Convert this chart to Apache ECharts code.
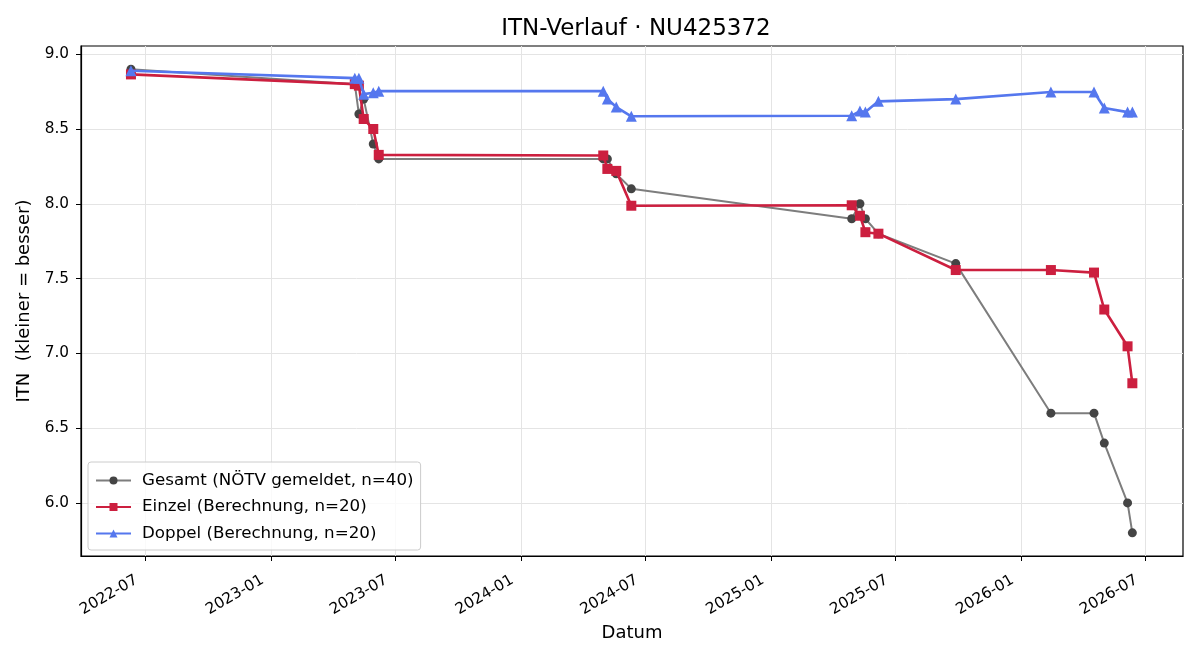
<!DOCTYPE html>
<html>
<head>
<meta charset="UTF-8">
<title>ITN-Verlauf</title>
<script src="https://cdn.jsdelivr.net/npm/echarts@6/dist/echarts.min.js"></script>
<style>
  html, body { margin: 0; padding: 0; background: #fff; }
  #main { width: 1200px; height: 660px; }
</style>
</head>
<body>
<div id="main"></div>
<script type="text/javascript">
// Spieltermine (gleich fuer Einzel und Doppel)
var dates = ['2022-06-10', '2023-05-03', '2023-05-09', '2023-05-16', '2023-05-30', '2023-06-07',
  '2024-04-30', '2024-05-06', '2024-05-19', '2024-06-10',
  '2025-04-28', '2025-05-10', '2025-05-18', '2025-06-06', '2025-09-27',
  '2026-02-13', '2026-04-17', '2026-05-02', '2026-06-05', '2026-06-12'];

var gesamt = [8.9, 8.8, 8.6, 8.7, 8.4, 8.3,
  8.3, 8.3, 8.2, 8.1,
  7.9, 8.0, 7.9, 7.8, 7.6,
  6.6, 6.6, 6.4, 6.0, 5.8];

var einzel = [8.865, 8.80, 8.79, 8.567, 8.50, 8.327,
  8.323, 8.233, 8.22, 7.987,
  7.99, 7.92, 7.81, 7.80, 7.557,
  7.557, 7.54, 7.293, 7.047, 6.80];

var doppel = [8.89, 8.84, 8.84, 8.733, 8.743, 8.753,
  8.753, 8.70, 8.647, 8.585,
  8.589, 8.62, 8.613, 8.685, 8.70,
  8.747, 8.747, 8.64, 8.613, 8.613];

var xTicks = ['2022-07-01', '2023-01-01', '2023-07-01', '2024-01-01', '2024-07-01',
  '2025-01-01', '2025-07-01', '2026-01-01', '2026-07-01'];
var yTicks = [6.0, 6.5, 7.0, 7.5, 8.0, 8.5, 9.0];

var seriesNames = ['Gesamt (NÖTV gemeldet, n=40)', 'Einzel (Berechnung, n=20)', 'Doppel (Berechnung, n=20)'];

function t(s) {
  var p = s.split('-');
  return Date.UTC(+p[0], +p[1] - 1, +p[2]);
}
function pairs(vals) {
  return dates.map(function (d, i) { return [t(d), vals[i]]; });
}
var xTickVals = xTicks.map(t);

var myChart = echarts.init(document.getElementById('main'));
var font = 'DejaVu Sans';

var option = {
  animation: false,
  textStyle: { fontFamily: font },
  title: {
    text: 'ITN-Verlauf · NU425372',
    left: 631, top: 13, textAlign: 'center',
    textStyle: { fontFamily: font, fontSize: 23, fontWeight: 'normal', color: '#000' }
  },
  legend: {
    orient: 'vertical',
    left: 88, top: 462,
    data: seriesNames,
    itemWidth: 35, itemHeight: 10, itemGap: 9.5,
    padding: [10, 7, 8, 7],
    backgroundColor: 'rgba(255,255,255,0.8)',
    borderColor: '#cccccc', borderWidth: 1, borderRadius: 3,
    textStyle: { fontFamily: font, fontSize: 16.7, color: '#000', padding: [0, 0, 0, 6] }
  },
  grid: {
    left: 81, right: 17, top: 46, bottom: 104,
    show: true, borderColor: '#000', borderWidth: 1.2, backgroundColor: 'transparent'
  },
  xAxis: {
    type: 'value',
    min: t('2022-03-29'), max: t('2026-08-25'),
    name: 'Datum', nameLocation: 'middle', nameGap: 68,
    nameTextStyle: { fontFamily: font, fontSize: 18, color: '#000' },
    axisLine: { lineStyle: { color: '#000', width: 1.2 } },
    axisTick: { customValues: xTickVals, length: 5, lineStyle: { color: '#000' } },
    axisLabel: {
      customValues: xTickVals, rotate: 30, margin: 18,
      padding: [0, 10, 0, 0],
      fontFamily: font, fontSize: 15.3, color: '#000',
      formatter: function (v) {
        var d = new Date(v);
        var m = d.getUTCMonth() + 1;
        return d.getUTCFullYear() + '-' + (m < 10 ? '0' + m : m);
      }
    },
    splitLine: { show: true, lineStyle: { color: '#e4e4e4', width: 1 } }
  },
  yAxis: {
    type: 'value',
    min: 5.645, max: 9.055,
    name: 'ITN  (kleiner = besser)', nameLocation: 'middle', nameGap: 47,
    nameTextStyle: { fontFamily: font, fontSize: 18, color: '#000' },
    axisLine: { show: true, lineStyle: { color: '#000', width: 1.2 } },
    axisTick: { show: true, customValues: yTicks, length: 5, lineStyle: { color: '#000' } },
    axisLabel: {
      customValues: yTicks, fontFamily: font, fontSize: 15.3, color: '#000', margin: 12,
      formatter: function (v) { return v.toFixed(1); }
    },
    splitLine: { show: true, lineStyle: { color: '#e4e4e4', width: 1 } }
  },
  series: [
    {
      name: seriesNames[0], type: 'line', data: pairs(gesamt),
      symbol: 'circle', symbolSize: 9, showAllSymbol: true,
      lineStyle: { color: '#7d7d7d', width: 2 },
      itemStyle: { color: '#444444', opacity: 1 },
      z: 2
    },
    {
      name: seriesNames[1], type: 'line', data: pairs(einzel),
      symbol: 'rect', symbolSize: 10, showAllSymbol: true,
      lineStyle: { color: '#cc1f3f', width: 2.6 },
      itemStyle: { color: '#cc1f3f' },
      z: 3
    },
    {
      name: seriesNames[2], type: 'line', data: pairs(doppel),
      symbol: 'triangle', symbolSize: 11, showAllSymbol: true,
      lineStyle: { color: '#5577ee', width: 2.6 },
      itemStyle: { color: '#5577ee' },
      z: 4
    }
  ]
};
myChart.setOption(option);
</script>
</body>
</html>
